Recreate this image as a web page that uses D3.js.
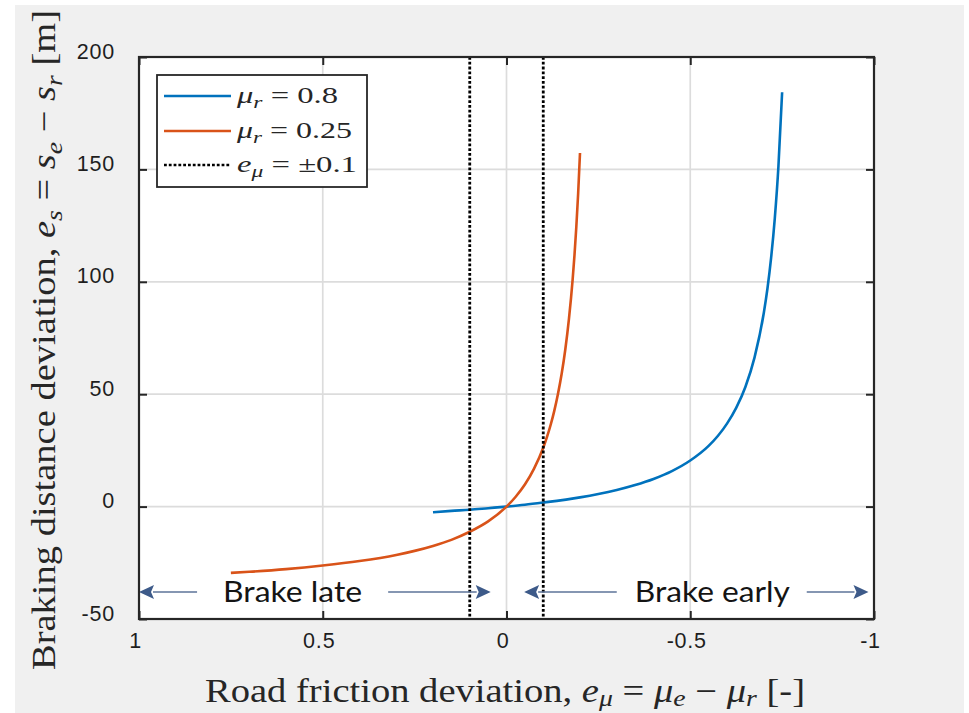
<!DOCTYPE html>
<html>
<head>
<meta charset="utf-8">
<script src="https://cdn.jsdelivr.net/npm/d3@7"></script>
<style>
html,body{margin:0;padding:0;background:#fff;}
svg{display:block;}
</style>
</head>
<body>
<svg id="chart" width="969" height="713"></svg>
<script>
// ---------- data ----------
const xTicks = [1, 0.5, 0, -0.5, -1];
const xTickLabels = ["1", "0.5", "0", "-0.5", "-1"];
const yTicks = [-50, 0, 50, 100, 150, 200];
const yTickLabels = ["-50", "0", "50", "100", "150", "200"];

// mu_r = 0.8
const eMuBlue = [0.2, 0.15, 0.1, 0.05, 0, -0.05, -0.1, -0.2, -0.25, -0.3, -0.35, -0.4, -0.45, -0.5, -0.55, -0.575, -0.6, -0.625, -0.65, -0.675, -0.7, -0.71, -0.72, -0.73, -0.74, -0.75];
const esBlue  = [-2.5, -1.9, -1.4, -0.7, 0, 0.8, 1.8, 4.1, 5.6, 7.4, 9.6, 12.3, 15.8, 20.5, 27.0, 31.4, 36.9, 43.9, 53.2, 66.4, 86.0, 96.9, 110.6, 128.1, 151.5, 184.3];

// mu_r = 0.25
const eMuOrange = [0.75, 0.7, 0.6, 0.5, 0.4, 0.3, 0.25, 0.2, 0.15, 0.1, 0.05, 0, -0.025, -0.05, -0.075, -0.1, -0.11, -0.12, -0.13, -0.14, -0.15, -0.16, -0.17, -0.18, -0.185, -0.19, -0.195, -0.2];
const esOrange  = [-29.5, -29.0, -27.8, -26.2, -24.2, -21.5, -19.7, -17.5, -14.8, -11.2, -6.6, 0, 4.4, 9.8, 16.9, 26.2, 30.9, 36.3, 42.6, 50.1, 59.0, 69.9, 83.6, 101.1, 111.9, 124.5, 139.4, 157.3];

// e_mu = +-0.1 bounds
const eBounds = [0.1, -0.1];

const seriesColors = ["#0072BD", "#D95319", "#000000"];

// annotations (data coordinates)
const annotY = -38;
const annotLabels = ["Brake late", "Brake early"];
const annotLabelX = [0.582, -0.56];
const arrowFrom = [0.842, 0.322, -0.30, -0.817];
const arrowTip  = [1.0, 0.043, -0.048, -0.985];

// ---------- chart ----------
const svg = d3.select("#chart");
const W = 969, H = 713;
const L = 139, R = 874, T = 57, B = 619;

svg.append("rect").attr("x", 0).attr("y", 0).attr("width", W).attr("height", H).attr("fill", "#ffffff");
svg.append("rect").attr("x", 15).attr("y", 5).attr("width", 949).attr("height", 708).attr("fill", "#f0f0f0");

const x = d3.scaleLinear().domain([1, -1]).range([L, R]);
const y = d3.scaleLinear().domain([-50, 200]).range([B, T]);

svg.append("rect").attr("x", L).attr("y", T).attr("width", R - L).attr("height", B - T).attr("fill", "#ffffff");

// grid
const grid = svg.append("g");
grid.selectAll("line.gx").data(xTicks).join("line")
  .attr("x1", d => x(d)).attr("x2", d => x(d)).attr("y1", T).attr("y2", B)
  .attr("stroke", "#dcdcdc").attr("stroke-width", 1.7);
grid.selectAll("line.gy").data(yTicks).join("line")
  .attr("class", "gy")
  .attr("x1", L).attr("x2", R).attr("y1", d => y(d)).attr("y2", d => y(d))
  .attr("stroke", "#dcdcdc").attr("stroke-width", 1.7);

// curves
const line = d3.line().x(d => x(d[0])).y(d => y(d[1])).curve(d3.curveMonotoneX);
const blueData = eMuBlue.map((e, i) => [e, esBlue[i]]);
const orangeData = eMuOrange.map((e, i) => [e, esOrange[i]]);
svg.append("path").datum(blueData).attr("d", line).attr("fill", "none")
  .attr("stroke", seriesColors[0]).attr("stroke-width", 2.6);
svg.append("path").datum(orangeData).attr("d", line).attr("fill", "none")
  .attr("stroke", seriesColors[1]).attr("stroke-width", 2.6);

// dotted bounds
svg.selectAll("line.bound").data(eBounds).join("line")
  .attr("class", "bound")
  .attr("x1", d => x(d)).attr("x2", d => x(d)).attr("y1", T).attr("y2", B)
  .attr("stroke", seriesColors[2]).attr("stroke-width", 2.8).attr("stroke-dasharray", "2.8,2");

// annotations
const arrowColor = "#3d5a89";
const ann = svg.append("g");
arrowFrom.forEach((f, i) => {
  const x0 = x(f), x1 = x(arrowTip[i]), yy = y(annotY);
  const dir = Math.sign(x1 - x0);
  const headLen = 15, headHalf = 7;
  ann.append("line").attr("x1", x0).attr("x2", x1 - dir * headLen + dir * 1).attr("y1", yy).attr("y2", yy)
    .attr("stroke", "#5c7398").attr("stroke-width", 1.4);
  ann.append("path")
    .attr("d", `M${x1},${yy} L${x1 - dir * headLen},${yy - headHalf} L${x1 - dir * headLen + dir * 3},${yy} L${x1 - dir * headLen},${yy + headHalf} Z`)
    .attr("fill", arrowColor);
});
const annWidths = [139, 155];
annotLabels.forEach((t, i) => {
  ann.append("text").attr("x", x(annotLabelX[i])).attr("y", y(annotY) + 10)
    .attr("text-anchor", "middle")
    .attr("font-family", "Lato, 'Noto Sans', sans-serif").attr("font-size", 29)
    .attr("fill", "#141414")
    .attr("textLength", annWidths[i]).attr("lengthAdjust", "spacingAndGlyphs")
    .text(t);
});

// axes
const axColor = "#262626";
const tickFont = "'Liberation Sans', Arial, sans-serif";
const xAxis = d3.axisBottom(x).tickValues(xTicks).tickFormat((d, i) => xTickLabels[i]).tickSizeInner(-8).tickSizeOuter(0);
const gx = svg.append("g").attr("transform", `translate(0,${B})`).call(xAxis);
gx.select(".domain").remove();
gx.selectAll(".tick line").attr("stroke", axColor).attr("stroke-width", 2);
gx.selectAll(".tick text").attr("y", 29).attr("dy", 0).attr("dx", -4)
  .attr("font-family", tickFont).attr("font-size", 21.5)
  .attr("letter-spacing", 0.8).attr("fill", "#1e1e1e");

const xAxisTop = d3.axisTop(x).tickValues(xTicks).tickFormat("").tickSizeInner(-8).tickSizeOuter(0);
const gxt = svg.append("g").attr("transform", `translate(0,${T})`).call(xAxisTop);
gxt.select(".domain").remove();
gxt.selectAll(".tick line").attr("stroke", axColor).attr("stroke-width", 2);

const yAxis = d3.axisLeft(y).tickValues(yTicks).tickFormat((d, i) => yTickLabels[i]).tickSizeInner(-8).tickSizeOuter(0);
const gy = svg.append("g").attr("transform", `translate(${L},0)`).call(yAxis);
gy.select(".domain").remove();
gy.selectAll(".tick line").attr("stroke", axColor).attr("stroke-width", 2);
gy.selectAll(".tick text").attr("x", -24).attr("dy", 0).attr("y", 1)
  .attr("font-family", tickFont).attr("font-size", 21.5)
  .attr("letter-spacing", 0.8).attr("fill", "#1e1e1e");

const yAxisRight = d3.axisRight(y).tickValues(yTicks).tickFormat("").tickSizeInner(-8).tickSizeOuter(0);
const gyr = svg.append("g").attr("transform", `translate(${R},0)`).call(yAxisRight);
gyr.select(".domain").remove();
gyr.selectAll(".tick line").attr("stroke", axColor).attr("stroke-width", 2);

svg.append("rect").attr("x", L).attr("y", T).attr("width", R - L).attr("height", B - T)
  .attr("fill", "none").attr("stroke", axColor).attr("stroke-width", 2.2);

// math text helper
function mathText(g, parts, size, subShift) {
  const t = g.append("text").attr("font-family", "'Liberation Serif', 'Times New Roman', serif")
    .attr("font-size", size).attr("fill", "#262626");
  let shifted = 0;
  parts.forEach(p => {
    const ts = t.append("tspan").text(p.t);
    let dy = 0;
    if (p.sub) {
      ts.attr("font-size", size * 0.72).attr("font-style", "italic");
      const target = size * subShift;
      dy = target - shifted; shifted = target;
    } else {
      dy = -shifted; shifted = 0;
      if (p.i) ts.attr("font-style", "italic");
    }
    if (dy !== 0) ts.attr("dy", dy);
  });
  return t;
}

// axis labels
const xLab = mathText(svg.append("g"), [
  {t: "Road friction deviation, "}, {t: "e", i: true}, {t: "μ", sub: true},
  {t: " = "}, {t: "μ", i: true}, {t: "e", sub: true}, {t: " − "},
  {t: "μ", i: true}, {t: "r", sub: true}, {t: " [-]"}
], 33, 0.12);
xLab.attr("x", 205).attr("y", 702).attr("textLength", 600).attr("lengthAdjust", "spacingAndGlyphs");

const yLabG = svg.append("g").attr("transform", "translate(55,670) rotate(-90)");
const yLab = mathText(yLabG, [
  {t: "Braking distance deviation, "}, {t: "e", i: true}, {t: "s", sub: true},
  {t: " = "}, {t: "s", i: true}, {t: "e", sub: true}, {t: " − "},
  {t: "s", i: true}, {t: "r", sub: true}, {t: " [m]"}
], 33, 0.2);
yLab.attr("x", 0).attr("y", 0).attr("textLength", 660).attr("lengthAdjust", "spacingAndGlyphs");

// legend
const leg = svg.append("g");
leg.append("rect").attr("x", 157).attr("y", 75).attr("width", 210).attr("height", 112)
  .attr("fill", "#ffffff").attr("stroke", axColor).attr("stroke-width", 1.8);
const legRows = [96, 131, 165];
const legWidths = [101, 115, 120];
const legParts = [
  [{t: "μ", i: true}, {t: "r", sub: true}, {t: " = 0.8"}],
  [{t: "μ", i: true}, {t: "r", sub: true}, {t: " = 0.25"}],
  [{t: "e", i: true}, {t: "μ", sub: true}, {t: " = ±0.1"}]
];
legRows.forEach((ry, i) => {
  const ln = leg.append("line").attr("x1", 164).attr("x2", 231).attr("y1", ry).attr("y2", ry)
    .attr("stroke", seriesColors[i]).attr("stroke-width", 2.6);
  if (i === 2) ln.attr("stroke-dasharray", "2.8,2");
  const t = mathText(leg, legParts[i], 24, 0.2);
  t.attr("x", 237).attr("y", ry + 7).attr("textLength", legWidths[i]).attr("lengthAdjust", "spacingAndGlyphs");
});
</script>
</body>
</html>
